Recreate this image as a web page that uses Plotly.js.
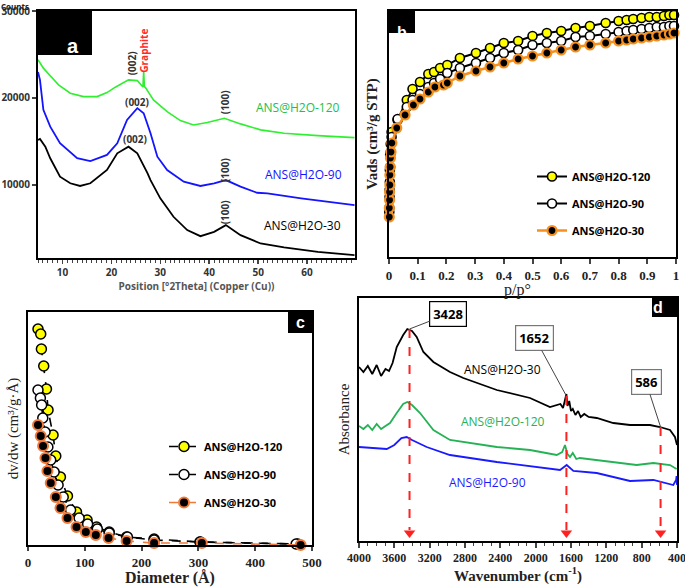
<!DOCTYPE html>
<html><head><meta charset="utf-8">
<script src="https://cdn.plot.ly/plotly-3.0.1.min.js"></script>
<style>html,body{margin:0;padding:0;background:#fff;}#chart{width:685px;height:587px;}</style>
</head><body><div id="chart"></div>
<script>
// ---------- Panel a: XRD ----------
const xrdGreenX = [5.0,6.1,7.5,9.2,11.6,14.3,17.1,19.1,20.8,23.5,25.3,26.3,26.45,26.6,26.75,27.0,28.6,31.4,34.1,36.8,39.6,43.1,46.4,50.5,55.3,62.2,69.7];
const xrdGreenY = [24390,23430,22550,21510,20550,20160,20160,20620,21240,22080,22000,21310,21250,23040,21300,21160,19780,18430,17400,16900,17170,17670,17020,16330,15950,15670,15440];
const xrdBlueX = [5.0,5.4,6.1,7.5,9.5,13.0,15.7,19.1,21.2,21.8,23.2,25.3,26.6,28.0,29.4,31.4,34.8,38.2,41.0,43.4,46.4,49.8,51.9,58.8,69.7];
const xrdBlueY = [23000,22080,18630,16700,14790,13070,12750,13450,14790,15560,17480,18830,18250,15940,13250,11720,10380,9880,10190,10560,9800,9100,9030,8460,7690];
const xrdBlackX = [5.0,5.4,6.5,7.5,9.5,11.6,13.6,15.7,19.1,21.2,23.5,25.3,27.4,28.0,30.0,32.7,35.5,38.2,41.0,43.4,46.4,50.5,55.3,62.2,69.7];
const xrdBlackY = [15170,15290,14400,13070,10950,10190,9880,10190,11720,13640,14400,13640,11340,10560,8460,6340,4810,4110,4610,5380,4230,3270,2810,2300,1930];
const xrdTicks = [10000,20000,30000];

// ---------- Panel b: N2 isotherms ----------
const isoP = [0.001,0.002,0.003,0.004,0.006,0.009,0.03,0.062,0.082,0.108,0.137,0.157,0.178,0.203,0.247,0.303,0.352,0.40,0.45,0.50,0.55,0.60,0.65,0.70,0.755,0.80,0.828,0.851,0.88,0.907,0.933,0.958,0.977,0.993];
const iso120 = [49,67,87,102,113,125,137,157,168,175,183,185,189,192,199,204,209,214,216,221,224,226,229,231,234,236,237,238,239,240,240,241,242,242];
const iso90 = [45,60,75,90,105,120,138,150,157,163,170,174,178,184,189,194,199,204,207,212,214,216,220,221,223,225,226,227,228,229,230,230,231,231];
const iso30P = [0.001,0.001,0.002,0.002,0.003,0.003,0.004,0.005,0.007,0.01,0.027,0.056,0.085,0.108,0.137,0.16,0.19,0.203,0.247,0.303,0.352,0.40,0.45,0.50,0.55,0.60,0.65,0.70,0.755,0.80,0.828,0.851,0.88,0.907,0.933,0.958,0.977,0.993];
const iso30 = [40,49,57,65,72,82,90,99,105,114,129,142,152,158,165,170,172,174,181,186,190,194,198,201,204,207,210,212,214,216,217,218,219,220,221,222,223,224];

// ---------- Panel c: pore size distribution ----------
const psd120D = [17.6,22.4,23.6,27.7,32.5,35.3,44.1,48.9,57.1,69.5,85.4,104,120.7,143,173.6,222,303,475];
const psd120 = [216,211,196,179,156,135,110,89,68,49,33,25,18,13,8,6,3,1];
const psd90D = [17.6,21.8,24,26,30,35,40,46,53,62,75,90,105,122,143,175,222,303,472];
const psd90 = [155,147,140,127,113,98,85,73,60,48,35,27,21,16,12,8,5,3,1];
const psd30D = [17.6,22.4,26.5,30.7,34.2,40,48.9,57.2,69.5,85.4,101.8,119.4,141.8,173.6,222,306,480];
const psd30 = [120,109,99,87,74,62,48,37,27,18,13,10,7,4,2,2,0];

// ---------- Panel d: FTIR ----------
const ir30Wn = [4000,3950,3900,3850,3800,3750,3700,3660,3620,3573,3500,3453,3400,3347,3271,3158,2970,2819,2440,2064,1838,1720,1690,1670,1652,1640,1620,1600,1580,1550,1520,1490,1450,1400,1309,1121,932,706,593,479,423,400];
const ir30 = [174,169,175,167,176,165,172,170,178,194,206,212,210,204,189,179,169,163,151,143,134,137,133,140,147,135,140,130,132,126,130,124,127,124,123,118,116,116,114,111,104,96];
const ir120Wn = [4000,3950,3900,3850,3800,3750,3700,3649,3573,3500,3453,3400,3309,3158,2970,2440,2064,1762,1700,1668,1640,1611,1580,1540,1500,1309,1083,857,668,479,404];
const ir120 = [115,112,116,111,117,112,115,118,128,137,139,136,128,111,101,94,91,86,89,96,87,84,88,82,83,81,78,76,78,76,72];
const ir90Wn = [4000,3686,3600,3520,3460,3400,3234,2970,2440,2064,1724,1649,1573,1309,932,668,442,410,405,400];
const ir90 = [94,92,96,103,104,101,94,86,79,75,71,76,70,68,60,61,56,61,65,56];
const peakWn = [3428,1652,586];
const peakTop = [212,145,114];
const peakBottom = [8,8,8];
const peakLabels = ['3428','1652','586'];

const serif = 'Liberation Serif';

const traces = [
  {x:xrdGreenX,y:xrdGreenY,xaxis:'x',yaxis:'y',mode:'lines',line:{color:'#2ef02e',width:1.6},showlegend:false},
  {x:xrdBlueX,y:xrdBlueY,xaxis:'x',yaxis:'y',mode:'lines',line:{color:'#1414ff',width:1.8},showlegend:false},
  {x:xrdBlackX,y:xrdBlackY,xaxis:'x',yaxis:'y',mode:'lines',line:{color:'#000',width:1.8},showlegend:false},

  {x:isoP,y:iso120,xaxis:'x2',yaxis:'y2',mode:'lines+markers',name:'ANS@H2O-120',legend:'legend',legendgroup:'b1',
   line:{color:'#000',width:2},marker:{color:'#ffff00',size:9,line:{color:'#000',width:1.6}},cliponaxis:false},
  {x:isoP,y:iso90,xaxis:'x2',yaxis:'y2',mode:'lines+markers',name:'ANS@H2O-90',legend:'legend',legendgroup:'b2',
   line:{color:'#000',width:2},marker:{color:'#fff',size:9,line:{color:'#000',width:1.6}},cliponaxis:false},
  {x:iso30P,y:iso30,xaxis:'x2',yaxis:'y2',mode:'lines+markers',name:'ANS@H2O-30',legend:'legend',legendgroup:'b3',
   line:{color:'#f5901e',width:2.5},marker:{color:'#000',size:9,line:{color:'#f5901e',width:2.2}},cliponaxis:false},

  {x:psd120D,y:psd120,xaxis:'x3',yaxis:'y3',mode:'lines+markers',name:'ANS@H2O-120',legend:'legend2',legendgroup:'c1',
   line:{color:'#000',width:1.6,dash:'dash'},marker:{color:'#ffff00',size:10,line:{color:'#000',width:1.5}},cliponaxis:false},
  {x:psd90D,y:psd90,xaxis:'x3',yaxis:'y3',mode:'lines+markers',name:'ANS@H2O-90',legend:'legend2',legendgroup:'c2',
   line:{color:'#000',width:1.6,dash:'dash'},marker:{color:'#fff',size:10,line:{color:'#000',width:1.5}},cliponaxis:false},
  {x:psd30D,y:psd30,xaxis:'x3',yaxis:'y3',mode:'lines+markers',name:'ANS@H2O-30',legend:'legend2',legendgroup:'c3',
   line:{color:'#f07a3a',width:1.6,dash:'dash'},marker:{color:'#000',size:10,line:{color:'#f07a3a',width:2}},cliponaxis:false},

  {x:ir30Wn,y:ir30,xaxis:'x4',yaxis:'y4',mode:'lines',line:{color:'#000',width:1.8},showlegend:false},
  {x:ir120Wn,y:ir120,xaxis:'x4',yaxis:'y4',mode:'lines',line:{color:'#25b255',width:1.8},showlegend:false},
  {x:ir90Wn,y:ir90,xaxis:'x4',yaxis:'y4',mode:'lines',line:{color:'#1a1aff',width:1.8},showlegend:false},
  {x:peakWn,y:peakBottom,xaxis:'x4',yaxis:'y4',mode:'markers',marker:{symbol:'triangle-down',size:10,color:'#ff2020'},showlegend:false,cliponaxis:false}
];

const shapes = [];
peakWn.forEach((w,i)=>{
  shapes.push({type:'line',xref:'x4',yref:'y4',x0:w,x1:w,y0:peakTop[i],y1:peakBottom[i]+3,line:{color:'#ff2020',width:2,dash:'dash'}});
});
const W=685,H=587;
const boxes = [
  {x0:38,x1:92,y0:11,y1:55,t:'a',s:20},
  {x0:389,x1:415,y0:11,y1:33,t:'b',s:16},
  {x0:288,x1:312,y0:312,y1:333,t:'c',s:16},
  {x0:652,x1:677,y0:298,y1:317,t:'d',s:16}
];
const annotations = [];
boxes.forEach(b=>{
  shapes.push({type:'rect',xref:'paper',yref:'paper',x0:b.x0/W,x1:b.x1/W,y0:1-b.y1/H,y1:1-b.y0/H,fillcolor:'#000',line:{width:0}});
  annotations.push({xref:'paper',yref:'paper',x:(b.x0+b.x1)/2/W,y:1-(b.y0+b.y1)/2/H,text:b.t,showarrow:false,
    font:{family:'Liberation Sans',size:b.s,color:'#fff',weight:'bold'}});
});

const labFont = {family:'Open Sans',size:10,color:'#333',weight:'bold'};
annotations.push(
  {xref:'paper',yref:'paper',x:0.0,y:1.0,xanchor:'left',yanchor:'top',text:'Counts',showarrow:false,borderpad:0,font:{family:'Open Sans',size:8,color:'#222',weight:'bold'}},
  {xref:'x',yref:'y',x:24.1,y:24040,text:'(002)',textangle:-90,showarrow:false,font:labFont},
  {xref:'x',yref:'y',x:26.6,y:25400,text:'Graphite',textangle:-90,showarrow:false,font:{family:'Open Sans',size:10,color:'#ff2a2a',weight:'bold'}},
  {xref:'x',yref:'y',x:43.3,y:19550,text:'(100)',textangle:-90,showarrow:false,font:labFont},
  {xref:'x',yref:'y',x:25.3,y:19550,text:'(002)',showarrow:false,font:labFont},
  {xref:'x',yref:'y',x:43.2,y:11700,text:'(100)',textangle:-90,showarrow:false,font:labFont},
  {xref:'x',yref:'y',x:24.9,y:15280,text:'(002)',showarrow:false,font:labFont},
  {xref:'x',yref:'y',x:43.4,y:6840,text:'(100)',textangle:-90,showarrow:false,font:labFont},
  {xref:'x',yref:'y',x:58.1,y:18940,text:'ANS@H2O-120',showarrow:false,font:{family:'Open Sans',size:12,color:'#22c04a'}},
  {xref:'x',yref:'y',x:59.3,y:11250,text:'ANS@H2O-90',showarrow:false,font:{family:'Open Sans',size:12,color:'#1414ff'}},
  {xref:'x',yref:'y',x:59.1,y:5380,text:'ANS@H2O-30',showarrow:false,font:{family:'Open Sans',size:12,color:'#000'}},
  {xref:'x4',yref:'y4',x:2381,y:171,text:'ANS@H2O-30',showarrow:false,font:{family:'Open Sans',size:12,color:'#000'}},
  {xref:'x4',yref:'y4',x:2370,y:119,text:'ANS@H2O-120',showarrow:false,font:{family:'Open Sans',size:12,color:'#25b255'}},
  {xref:'x4',yref:'y4',x:2540,y:58,text:'ANS@H2O-90',showarrow:false,font:{family:'Open Sans',size:12,color:'#1a1aff'}},
  {xref:'paper',yref:'paper',x:532/W,y:1-290/H,text:'p/p°',showarrow:false,borderpad:0,font:{family:serif,size:16,color:'#222'}}
);
const calloutPos = [[2990,227],[2008,203],[751,159]];
const calloutBorder = ['#000','#777','#777'];
peakWn.forEach((w,i)=>{
  annotations.push({xref:'x4',yref:'y4',x:w,y:peakTop[i],axref:'x4',ayref:'y4',ax:calloutPos[i][0],ay:calloutPos[i][1],
    text:peakLabels[i],showarrow:true,arrowhead:0,arrowwidth:1,arrowcolor:'#444',bgcolor:'#fff',bordercolor:calloutBorder[i],borderwidth:1.2,borderpad:3,
    font:{family:'Open Sans',size:13,color:'#000',weight:'bold'}});
});

const frame = {showline:true,mirror:true,linecolor:'#000',linewidth:2,showgrid:false,zeroline:false};
const serifTick = {family:serif,size:13,color:'#222',weight:'bold'};
const layout = {
  width:W,height:H,margin:{l:0,r:0,t:0,b:0},paper_bgcolor:'#fff',plot_bgcolor:'#fff',
  xaxis:Object.assign({},frame,{domain:[38/W,355/W],anchor:'y',range:[5,69.8],tick0:0,dtick:10,ticks:'outside',ticklen:4,tickwidth:1.5,
    minor:{dtick:1,ticks:'outside',ticklen:2.5,tickwidth:1},tickfont:{family:'Open Sans',size:10,color:'#333',weight:'bold'},
    title:{text:'Position [°2Theta] (Copper (Cu))',font:{family:'Open Sans',size:10,color:'#555',weight:'bold'},standoff:2}}),
  yaxis:Object.assign({},frame,{domain:[1-258/H,1-11/H],anchor:'x',range:[1600,30000],tickvals:xrdTicks,ticktext:xrdTicks.map(String),ticks:'outside',ticklen:4,tickwidth:1.5,
    tickfont:{family:'Open Sans',size:10,color:'#333',weight:'bold'}}),
  xaxis2:Object.assign({},frame,{domain:[389/W,676/W],anchor:'y2',range:[0,1],dtick:0.1,ticks:'outside',ticklen:5,tickwidth:2,tickfont:serifTick,ticklabeloverflow:'allow'}),
  yaxis2:Object.assign({},frame,{domain:[1-257/H,1-11/H],anchor:'x2',range:[0,246],showticklabels:false,ticks:'',
    title:{text:'Vads (cm³/g STP)',font:{family:serif,size:15,color:'#222',weight:'bold'},standoff:6}}),
  xaxis3:Object.assign({},frame,{domain:[28/W,312/W],anchor:'y3',range:[0,500],dtick:100,ticks:'outside',ticklen:4,tickwidth:2,tickfont:serifTick,
    title:{text:'Diameter (Å)',font:{family:serif,size:16,color:'#222',weight:'bold'},standoff:2}}),
  yaxis3:Object.assign({},frame,{domain:[1-545/H,1-312/H],anchor:'x3',range:[0,233],showticklabels:false,ticks:'',
    title:{text:'dv/dw (cm³/g·Å)',font:{family:serif,size:15,color:'#222'},standoff:4}}),
  xaxis4:Object.assign({},frame,{domain:[359/W,677/W],anchor:'y4',range:[4000,400],tick0:400,dtick:400,ticks:'outside',ticklen:5,tickwidth:2,ticklabeloverflow:'allow',
    minor:{dtick:100,ticks:'outside',ticklen:3,tickwidth:1},tickfont:{family:serif,size:12,color:'#222',weight:'bold'},
    title:{text:'Wavenumber (cm<sup>-1</sup>)',font:{family:serif,size:15,color:'#222',weight:'bold'},standoff:2}}),
  yaxis4:Object.assign({},frame,{domain:[1-541/H,1-298/H],anchor:'x4',range:[0,243],showticklabels:false,ticks:'',
    title:{text:'Absorbance',font:{family:serif,size:15,color:'#222'},standoff:4}}),
  legend:{x:532/W,y:1-162/H,xanchor:'left',yanchor:'top',bgcolor:'rgba(0,0,0,0)',tracegroupgap:8,
    font:{family:'Open Sans',size:11,color:'#000',weight:'bold'}},
  legend2:{x:164/W,y:1-432/H,xanchor:'left',yanchor:'top',bgcolor:'rgba(0,0,0,0)',tracegroupgap:9,
    font:{family:'Open Sans',size:11,color:'#000',weight:'bold'}},
  shapes:shapes,annotations:annotations
};
Plotly.newPlot('chart',traces,layout,{displayModeBar:false,staticPlot:true});
</script></body></html>
